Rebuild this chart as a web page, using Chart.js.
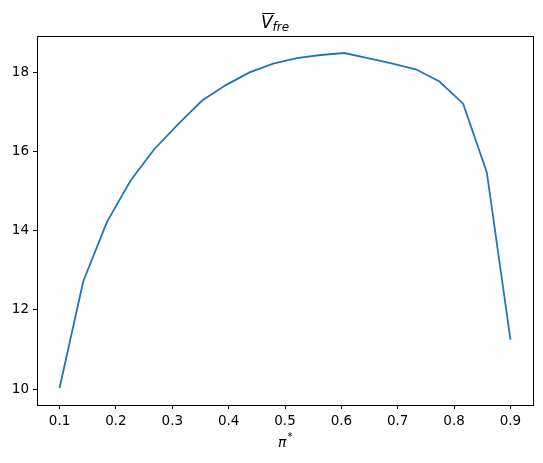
<!DOCTYPE html>
<html>
<head>
<meta charset="utf-8">
<script src="https://cdn.jsdelivr.net/npm/chart.js@4"></script>
<style>
  html, body { margin: 0; padding: 0; background: #fff; }
  #wrap { width: 543px; height: 463px; }
</style>
</head>
<body>
<div id="wrap"><canvas id="line-chart" width="543" height="463"></canvas></div>
<script>
// pi* grid and V_fre values
const piStar = [0.1, 0.142, 0.184, 0.226, 0.268, 0.311, 0.353, 0.395, 0.437, 0.479,
                0.521, 0.563, 0.605, 0.647, 0.689, 0.732, 0.774, 0.816, 0.858, 0.9];
const vFre = [10.03, 12.72, 14.22, 15.27, 16.06, 16.70, 17.29, 17.68, 18.00, 18.22,
              18.36, 18.44, 18.49, 18.36, 18.23, 18.08, 17.77, 17.21, 15.48, 11.25];
const xTicks = [0.1, 0.2, 0.3, 0.4, 0.5, 0.6, 0.7, 0.8, 0.9];
const yTicks = [10, 12, 14, 16, 18];

const tickFont = { family: 'DejaVu Sans', size: 13.5 };

// box around the axes + mathtext-ish labels
const decor = {
  id: 'decor',
  afterDraw(c) {
    const ctx = c.ctx, a = c.chartArea;
    ctx.save();
    ctx.strokeStyle = '#000';
    ctx.lineWidth = 1;
    ctx.strokeRect(Math.round(a.left) + 0.5, Math.round(a.top) + 0.5,
                   Math.round(a.right - a.left), Math.round(a.bottom - a.top));

    ctx.fillStyle = '#000';
    ctx.textBaseline = 'alphabetic';
    // title: overline V, subscript fre
    ctx.font = 'italic 17px "DejaVu Sans"';
    const vw = ctx.measureText('V').width;
    ctx.font = 'italic 12px "DejaVu Sans"';
    const sw = ctx.measureText('fre').width;
    let x0 = (a.left + a.right) / 2 - (vw + sw) / 2 - 10;
    ctx.font = 'italic 17px "DejaVu Sans"';
    ctx.fillText('V', x0, 28);
    ctx.fillRect(x0 + 1, 13, vw + 1, 1);
    ctx.font = 'italic 12px "DejaVu Sans"';
    ctx.fillText('fre', x0 + vw, 31);

    // x label: pi superscript *
    ctx.font = 'italic 14px "DejaVu Sans"';
    const pw = ctx.measureText('π').width;
    const px = (a.left + a.right) / 2 - 7;
    ctx.fillText('π', px, 447);
    ctx.font = '10px "DejaVu Sans"';
    ctx.fillText('*', px + pw + 1, 440);
    ctx.restore();
  }
};

const chart = new Chart(document.getElementById('line-chart'), {
  type: 'line',
  data: {
    datasets: [{
      data: piStar.map((p, i) => ({ x: p, y: vFre[i] })),
      borderColor: '#1f77b4',
      borderWidth: 1.8,
      pointRadius: 0,
      tension: 0,
      fill: false
    }]
  },
  options: {
    responsive: false,
    animation: false,
    events: [],
    layout: { padding: { left: 0, right: 10, top: 36, bottom: 0 } },
    plugins: { legend: { display: false }, tooltip: { enabled: false } },
    scales: {
      x: {
        type: 'linear',
        min: 0.06,
        max: 0.94,
        afterBuildTicks: s => { s.ticks = xTicks.map(v => ({ value: v })); },
        afterFit: s => { s.height = 58; },
        grid: { drawOnChartArea: false, drawTicks: true, tickLength: 4, color: '#000', tickColor: '#000' },
        border: { display: false },
        ticks: { color: '#000', font: tickFont, padding: 4, maxRotation: 0,
                 callback: v => v.toFixed(1) }
      },
      y: {
        min: 9.6,
        max: 18.92,
        afterBuildTicks: s => { s.ticks = yTicks.map(v => ({ value: v })); },
        afterFit: s => { s.width = 37; },
        grid: { drawOnChartArea: false, drawTicks: true, tickLength: 4, color: '#000', tickColor: '#000' },
        border: { display: false },
        ticks: { color: '#000', font: tickFont, padding: 4,
                 callback: v => String(v) }
      }
    }
  },
  plugins: [decor]
});
</script>
</body>
</html>
